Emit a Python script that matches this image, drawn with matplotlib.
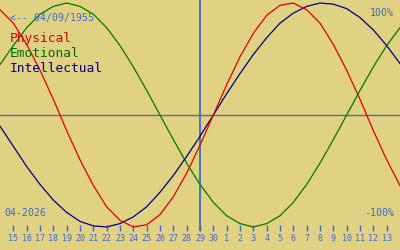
import matplotlib as mpl
mpl.use('Agg')
import matplotlib.pyplot as plt

# days shown on the axis (index 1..29), index 0 and 30 are the edges
days = [15, 16, 17, 18, 19, 20, 21, 22, 23, 24, 25, 26, 27, 28, 29, 30,
        1, 2, 3, 4, 5, 6, 7, 8, 9, 10, 11, 12, 13]
today_idx = 15  # 29

# percent values, one per day from index 0 to 30
physical = [94, 82, 63, 40, 14, -14, -40, -63, -82, -94, -100, -98, -89, -73, -52, -27,
            0, 27, 52, 73, 89, 98, 100, 94, 82, 63, 40, 14, -14, -40, -63]
emotional = [45, 62, 78, 90, 97, 100, 97, 90, 78, 62, 43, 22, 0, -22, -43, -62,
             -78, -90, -97, -100, -97, -90, -78, -62, -43, -22, 0, 22, 43, 62, 78]
intellectual = [-10, -28, -46, -62, -76, -87, -95, -99, -100, -97, -91, -82, -69, -54, -37, -19,
                0, 19, 37, 54, 69, 82, 91, 97, 100, 99, 95, 87, 76, 62, 46]

bg = '#e0d282'
blue = '#3a6acb'
mono = 'DejaVu Sans Mono'

fig = plt.figure(figsize=(4, 2.5), dpi=100, facecolor=bg)
ax = fig.add_axes([0, 19 / 250, 1, 231 / 250])
ax.set_facecolor(bg)
for s in ax.spines.values():
    s.set_visible(False)

x = list(range(len(physical)))
ax.axhline(0, color='#5a7290', lw=1.0)
ax.axvline(today_idx, color='#2a66c8', lw=1.2)
ax.plot(x, [v / 100 for v in emotional], color='#007800', lw=0.9)
ax.plot(x, [v / 100 for v in intellectual], color='#000080', lw=0.9)
ax.plot(x, [v / 100 for v in physical], color='#e00000', lw=0.9)

ax.set_xlim(0, 30)
ax.set_ylim(-1.036, 1.027)
ax.set_yticks([])
ax.set_xticks(range(1, len(days) + 1))
ax.set_xticklabels(days)
ax.tick_params(axis='x', direction='in', length=4.3, width=1, color=blue,
               labelcolor=blue, labelsize=6, pad=2)
for lab in ax.get_xticklabels():
    lab.set_family(mono)

def px(xp, yp):
    return xp / 400, 1 - yp / 250

fig.text(*px(10, 20.5), '<-- 04/09/1955', color=blue, family=mono, fontsize=7.1, va='baseline')
fig.text(*px(10, 42), 'Physical', color='#d80000', family=mono, fontsize=9.3, va='baseline')
fig.text(*px(10, 57), 'Emotional', color='#006c00', family=mono, fontsize=9.3, va='baseline')
fig.text(*px(10, 72), 'Intellectual', color='#000080', family=mono, fontsize=9.3, va='baseline')
fig.text(*px(394, 16), '100%', color=blue, family=mono, fontsize=7.1, va='baseline', ha='right')
fig.text(*px(394, 216), '-100%', color=blue, family=mono, fontsize=7.1, va='baseline', ha='right')
fig.text(*px(4, 216), '04-2026', color=blue, family=mono, fontsize=7.1, va='baseline')

fig.savefig('out.png', dpi=100, facecolor=bg)
plt.close()
